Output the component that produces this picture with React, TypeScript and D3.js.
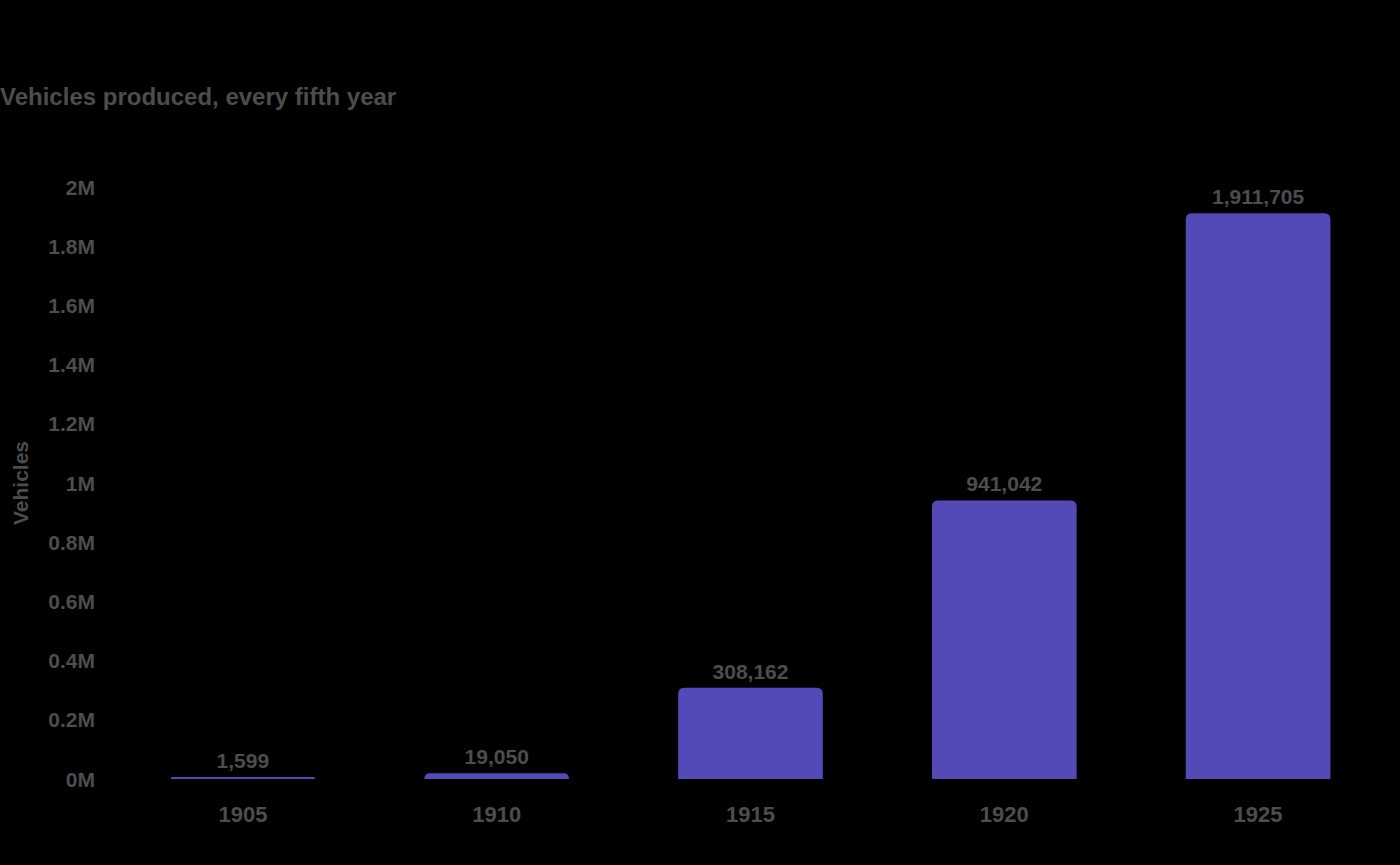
import React from 'react';
import * as d3 from 'd3';

const years = ['1905', '1910', '1915', '1920', '1925'];
const vehicles = [1599, 19050, 308162, 941042, 1911705];
const yTicks = [0, 200000, 400000, 600000, 800000, 1000000, 1200000, 1400000, 1600000, 1800000, 2000000];

const W = 1400;
const H = 865;
const FONT = '"Liberation Sans", Arial, Helvetica, sans-serif';
const TEXT = '#4d4d4d';
const BAR = '#5349b7';

const x = d3.scaleBand<string>()
  .domain(years)
  .range([116, 1385])
  .paddingInner(0.43)
  .paddingOuter(0.215);

const y = d3.scaleLinear().domain([0, 2000000]).range([779, 187]);

const fmtTick = (v: number) => `${+(v / 1e6).toFixed(1)}M`;
const fmtVal = d3.format(',');

// bar with rounded top corners
function barPath(x0: number, w: number, top: number, bottom: number, r: number) {
  const h = bottom - top;
  const rr = Math.min(r, h, w / 2);
  return `M${x0},${bottom}V${top + rr}Q${x0},${top} ${x0 + rr},${top}H${x0 + w - rr}Q${x0 + w},${top} ${x0 + w},${top + rr}V${bottom}Z`;
}

export default function App() {
  return (
    <div style={{ position: 'fixed', left: 0, top: 0, width: W, height: H, background: '#000' }}>
      <svg width={W} height={H} style={{ display: 'block' }} fontFamily={FONT} fontWeight="bold" fill={TEXT}>
        <rect width={W} height={H} fill="#000" />
        <text x={0} y={105} fontSize={24}>
          Vehicles produced, every fifth year
        </text>
        <text
          transform={`translate(28,${(y(0) + y(2000000)) / 2}) rotate(-90)`}
          textAnchor="middle"
          fontSize={21}
        >
          Vehicles
        </text>
        {yTicks.map(t => (
          <text key={t} x={95} y={y(t)} dy="0.36em" textAnchor="end" fontSize={21}>
            {fmtTick(t)}
          </text>
        ))}
        {years.map((yr, i) => {
          const x0 = x(yr)!;
          const w = x.bandwidth();
          const top = Math.min(y(vehicles[i]), y(0) - 2);
          return (
            <g key={yr}>
              <path d={barPath(x0, w, top, y(0), 6)} fill={BAR} />
              <text x={x0 + w / 2} y={top - 9} textAnchor="middle" fontSize={21}>
                {fmtVal(vehicles[i])}
              </text>
              <text x={x0 + w / 2} y={822} textAnchor="middle" fontSize={22}>
                {yr}
              </text>
            </g>
          );
        })}
      </svg>
    </div>
  );
}
